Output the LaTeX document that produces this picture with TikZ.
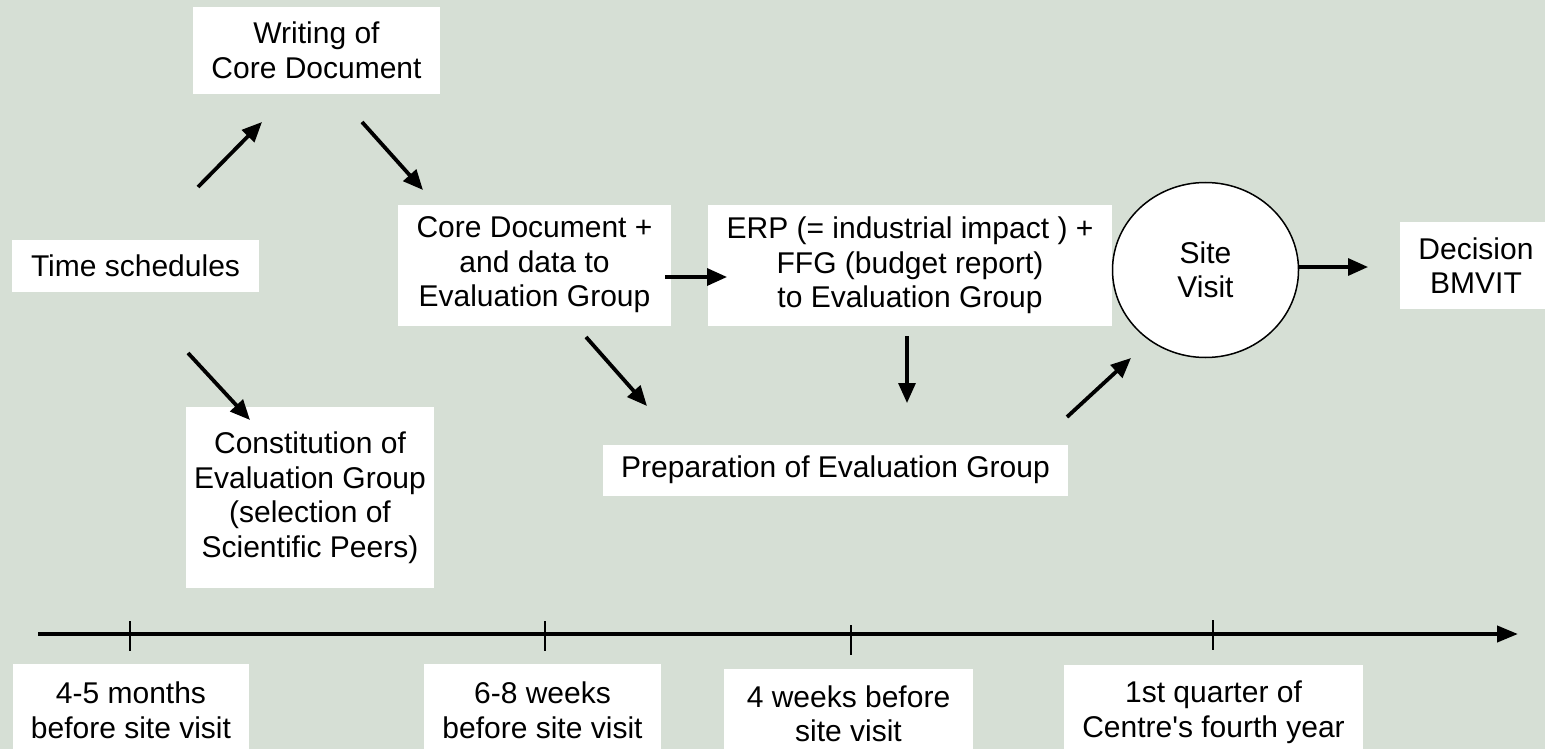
\documentclass[tikz,border=0pt]{standalone}
\usepackage{fontspec}
\newfontfamily\diagfont{Liberation Sans}
\usetikzlibrary{arrows.meta,shapes.geometric}
\definecolor{bgsage}{RGB}{214,223,213}
\begin{document}
\begin{tikzpicture}[x=1pt,y=-1pt,
  every node/.style={font=\diagfont\fontsize{30}{34.5}\selectfont, align=center, inner sep=0pt},
  whitebox/.style={fill=white, draw=none},
  flow/.style={line width=3.8pt, -{Triangle[length=20pt,width=17pt]}},
  axisline/.style={line width=4pt, -{Triangle[length=21pt,width=16pt]}},
  tickmark/.style={line width=1.5pt}]
  % background and page frame
  \fill[bgsage] (0,0) rectangle (1545,749);
  \clip (0,0) rectangle (1545,749);

  % process boxes
  \node[whitebox, minimum width=247pt, minimum height=87pt] (write) at (316.5,50.5) {Writing of\\Core Document};
  \node[whitebox, minimum width=247pt, minimum height=52pt] (ts) at (135.5,266) {Time schedules};
  \node[whitebox, minimum width=273pt, minimum height=121pt] (core) at (534.5,265) {Core Document +\\and data to\\Evaluation Group};
  \node[whitebox, minimum width=404pt, minimum height=121pt] (erp) at (910,265.5) {ERP (= industrial impact ) +\\FFG (budget report)\\to Evaluation Group};
  \node[whitebox, minimum width=248pt, minimum height=181pt] (const) at (310,497.5) {Constitution of\\Evaluation Group\\(selection of\\Scientific Peers)};
  \node[whitebox, minimum width=465pt, minimum height=51pt] (prep) at (835.5,470) {Preparation of Evaluation Group};
  \node[ellipse, draw=black, line width=1.5pt, fill=white, minimum width=186pt, minimum height=175pt] (site) at (1205.5,270) {Site\\Visit};
  \node[whitebox, minimum width=152pt, minimum height=87pt] (dec) at (1476,265.5) {Decision\\BMVIT};

  % arrow end points
  \coordinate (tsA) at (198,187);   \coordinate (writeIn) at (262,122);
  \coordinate (writeOut) at (362,122); \coordinate (coreIn) at (423,190);
  \coordinate (tsB) at (188,353);   \coordinate (constIn) at (250,420);
  \coordinate (coreA) at (665,277); \coordinate (erpIn) at (727,277);
  \coordinate (coreB) at (586,337); \coordinate (prepInA) at (647,406);
  \coordinate (erpOut) at (907,336); \coordinate (prepInB) at (907,403);
  \coordinate (prepOut) at (1067,417); \coordinate (siteIn) at (1131,358);
  \coordinate (decIn) at (1368,267);

  % flow arrows
  \draw[flow] (tsA) -- (writeIn);
  \draw[flow] (writeOut) -- (coreIn);
  \draw[flow] (tsB) -- (constIn);
  \draw[flow, line width=3.4pt] (coreA) -- (erpIn);
  \draw[flow] (coreB) -- (prepInA);
  \draw[flow, line width=3.2pt] (erpOut) -- (prepInB);
  \draw[flow] (prepOut) -- (siteIn);
  \draw[flow, line width=3.2pt] (site.east |- decIn) -- (decIn);

  % time axis
  \coordinate (axStart) at (38,634);
  \coordinate (axEnd) at (1518,634);
  \draw[axisline] (axStart) -- (axEnd);
  \draw[tickmark] (130,621) -- (130,651);
  \draw[tickmark] (545,621) -- (545,651);
  \draw[tickmark] (851,625) -- (851,655);
  \draw[tickmark] (1213,620) -- (1213,650);

  % time axis labels
  \node[whitebox, minimum width=236pt, minimum height=93pt] (lab1) at (131,710.5) {4-5 months\\before site visit};
  \node[whitebox, minimum width=237pt, minimum height=93pt] (lab2) at (542.5,710.5) {6-8 weeks\\before site visit};
  \node[whitebox, minimum width=249pt, minimum height=90pt] (lab3) at (848.5,714) {4 weeks before\\site visit};
  \node[whitebox, minimum width=299pt, minimum height=95pt] (lab4) at (1213.5,712.5) {1st quarter of\\Centre's fourth year};
\end{tikzpicture}
\end{document}
